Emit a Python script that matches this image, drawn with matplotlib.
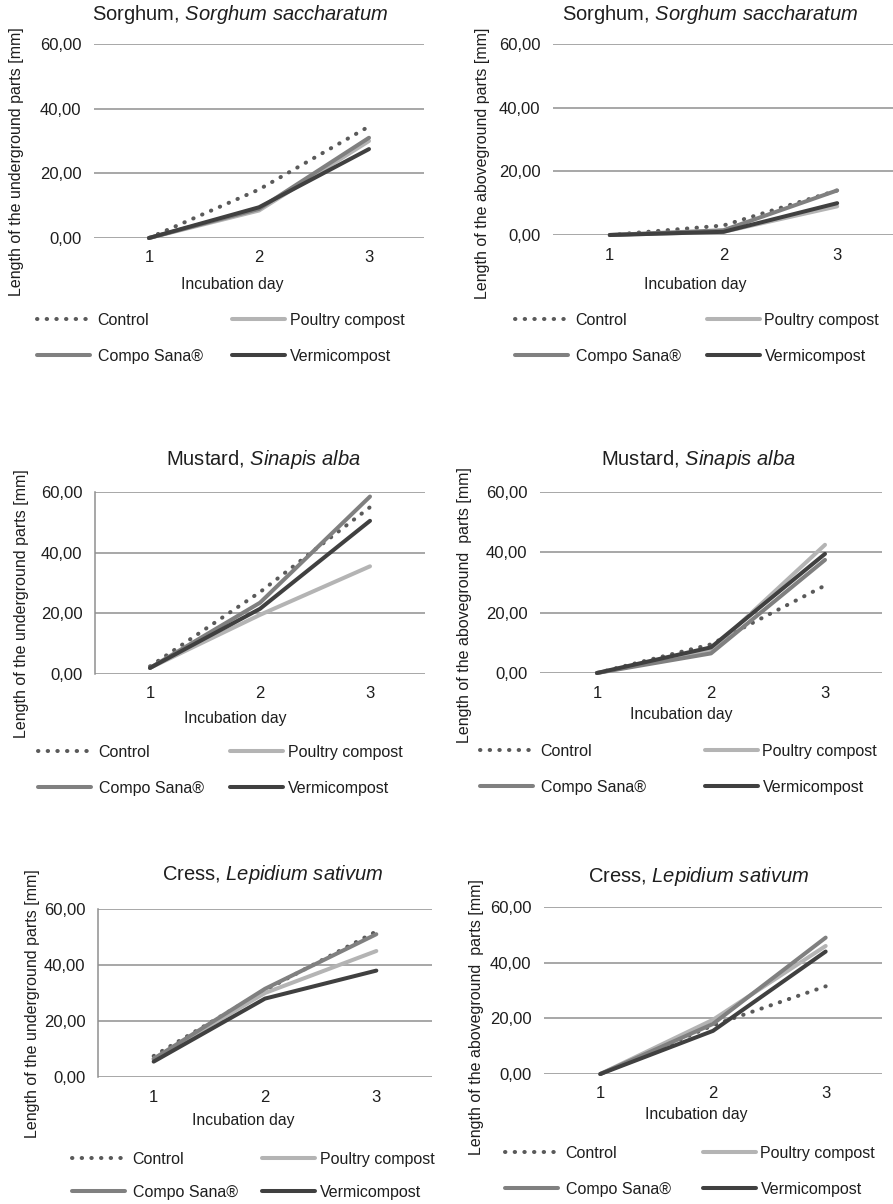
import matplotlib
matplotlib.use("Agg")
import matplotlib.pyplot as plt

plt.rcParams['font.family'] = ['Liberation Sans', 'DejaVu Sans']
plt.rcParams['mathtext.fontset'] = 'custom'
plt.rcParams['mathtext.rm'] = 'Liberation Sans'
plt.rcParams['mathtext.it'] = 'Liberation Sans:italic'

W, H = 893, 1204

days = [1, 2, 3]
series = ["Control", "Poultry compost", "Compo Sana®", "Vermicompost"]

# underground / aboveground lengths [mm], order: control, poultry, compo, vermi
sorghum_under = [[0, 15, 34.5], [0, 8.5, 30], [0, 9, 31], [0, 9.5, 27.5]]
sorghum_above = [[0, 3, 14], [0, 1, 9], [0, 1.5, 14], [0, 1, 10]]
mustard_under = [[2.5, 27, 55], [2, 19.5, 35.5], [2, 23.5, 58.5], [2, 21.5, 50.5]]
mustard_above = [[0, 9.5, 29], [0, 7.5, 42.5], [0, 6.5, 37.5], [0, 8.5, 39.5]]
cress_under = [[7.5, 31, 52], [6.5, 30, 45], [6.5, 31.5, 51], [5.5, 28, 38]]
cress_above = [[0, 17.5, 31.5], [0, 19.5, 46], [0, 18, 49], [0, 15.5, 44]]

titles = [r"Sorghum, $\it{Sorghum\ saccharatum}$", r"Sorghum, $\it{Sorghum\ saccharatum}$",
          r"Mustard, $\it{Sinapis\ alba}$", r"Mustard, $\it{Sinapis\ alba}$",
          r"Cress, $\it{Lepidium\ sativum}$", r"Cress, $\it{Lepidium\ sativum}$"]
ylabels = ["Length of the underground parts [mm]", "Length of the aboveground parts [mm]",
           "Length of the underground parts [mm]", "Length of the aboveground  parts [mm]",
           "Length of the underground parts [mm]", "Length of the aboveground  parts [mm]"]
yticks = [0, 20, 40, 60]
ytick_labels = ["0,00", "20,00", "40,00", "60,00"]

colors = ["#5a5a5a", "#b4b4b4", "#808080", "#404040"]
styles = [(0, (0.1, 2.3)), "-", "-", "-"]

# pixel layout: axes left, right, top(60), bottom(0); title xy; ylabel xy; xlabel xy;
# legend col1 x, col2 x, row1 y, row2 y; left spine
panels = [
    dict(data=sorghum_under, box=(94, 424, 44, 238), title=(240, 15), ylab=(17, 162), xlab=(232, 285),
         leg=(37, 232, 320, 357), spine=False),
    dict(data=sorghum_above, box=(553, 894, 44, 235), title=(710, 15), ylab=(482, 163), xlab=(695, 284),
         leg=(515, 707, 320, 357), spine=False),
    dict(data=mustard_under, box=(95, 425, 492, 674), title=(263, 460), ylab=(22, 604), xlab=(235, 718),
         leg=(38, 230, 752, 789), spine=True),
    dict(data=mustard_above, box=(540, 882, 492, 673), title=(698, 460), ylab=(465, 605), xlab=(681, 715),
         leg=(480, 705, 751, 788), spine=False),
    dict(data=cress_under, box=(98, 432, 909, 1077), title=(273, 875), ylab=(33, 1004), xlab=(243, 1120),
         leg=(72, 262, 1159, 1193), spine=True),
    dict(data=cress_above, box=(544, 882, 907, 1074), title=(699, 877), ylab=(476, 1017), xlab=(696, 1115),
         leg=(505, 703, 1153, 1190), spine=False),
]

fig = plt.figure(figsize=(W / 100, H / 100), dpi=100)
txt = "#1e1e1e"
grid_c = "#8f8f8f"

def fx(x):
    return x / W

def fy(y):
    return 1 - y / H

for i, p in enumerate(panels):
    l, r, t, b = p["box"]
    ax = fig.add_axes([fx(l), fy(b), (r - l) / W, (b - t) / H])
    handles = []
    for vals, name, c, ls in zip(p["data"], series, colors, styles):
        ln, = ax.plot(days, vals, color=c, lw=2.9, linestyle=ls, label=name,
                      dash_capstyle='round', solid_capstyle='round', clip_on=False)
        handles.append(ln)
    ax.set_xlim(0.5, 3.5)
    ax.set_ylim(0, 60)
    ax.set_yticks(yticks)
    ax.set_yticklabels(ytick_labels)
    ax.set_xticks(days)
    ax.tick_params(length=0, labelsize=12, colors=txt)
    ax.tick_params(axis='y', pad=9)
    ax.tick_params(axis='x', pad=9)
    ax.yaxis.grid(True, color=grid_c, lw=1.1)
    ax.set_axisbelow(True)
    for s in ["top", "right", "bottom", "left"]:
        ax.spines[s].set_visible(False)
    if p["spine"]:
        ax.spines["left"].set_visible(True)
        ax.spines["left"].set_color(grid_c)
        ax.spines["left"].set_linewidth(1.1)

    fig.text(fx(p["title"][0]), fy(p["title"][1]), titles[i], ha='center', va='center',
             fontsize=14.5, color=txt)
    fig.text(fx(p["ylab"][0]), fy(p["ylab"][1]), ylabels[i], rotation=90, ha='center', va='center',
             fontsize=11.5, color=txt)
    fig.text(fx(p["xlab"][0]), fy(p["xlab"][1]), "Incubation day", ha='center', va='center',
             fontsize=11.3, color=txt)

    c1, c2, r1, r2 = p["leg"]
    ymid = (r1 + r2) / 2
    lsp = (r2 - r1 - 16) / 16
    leg1 = ax.legend([handles[0], handles[2]], [series[0], series[2]], loc='center left',
                     bbox_to_anchor=(fx(c1), fy(ymid)), bbox_transform=fig.transFigure,
                     frameon=False, fontsize=11.5, handlelength=3.3, handletextpad=0.5,
                     borderpad=0, borderaxespad=0, labelspacing=lsp, labelcolor=txt)
    ax.add_artist(leg1)
    ax.legend([handles[1], handles[3]], [series[1], series[3]], loc='center left',
              bbox_to_anchor=(fx(c2), fy(ymid)), bbox_transform=fig.transFigure,
              frameon=False, fontsize=11.5, handlelength=3.3, handletextpad=0.3,
              borderpad=0, borderaxespad=0, labelspacing=lsp, labelcolor=txt)

fig.savefig("out.png", dpi=100)
